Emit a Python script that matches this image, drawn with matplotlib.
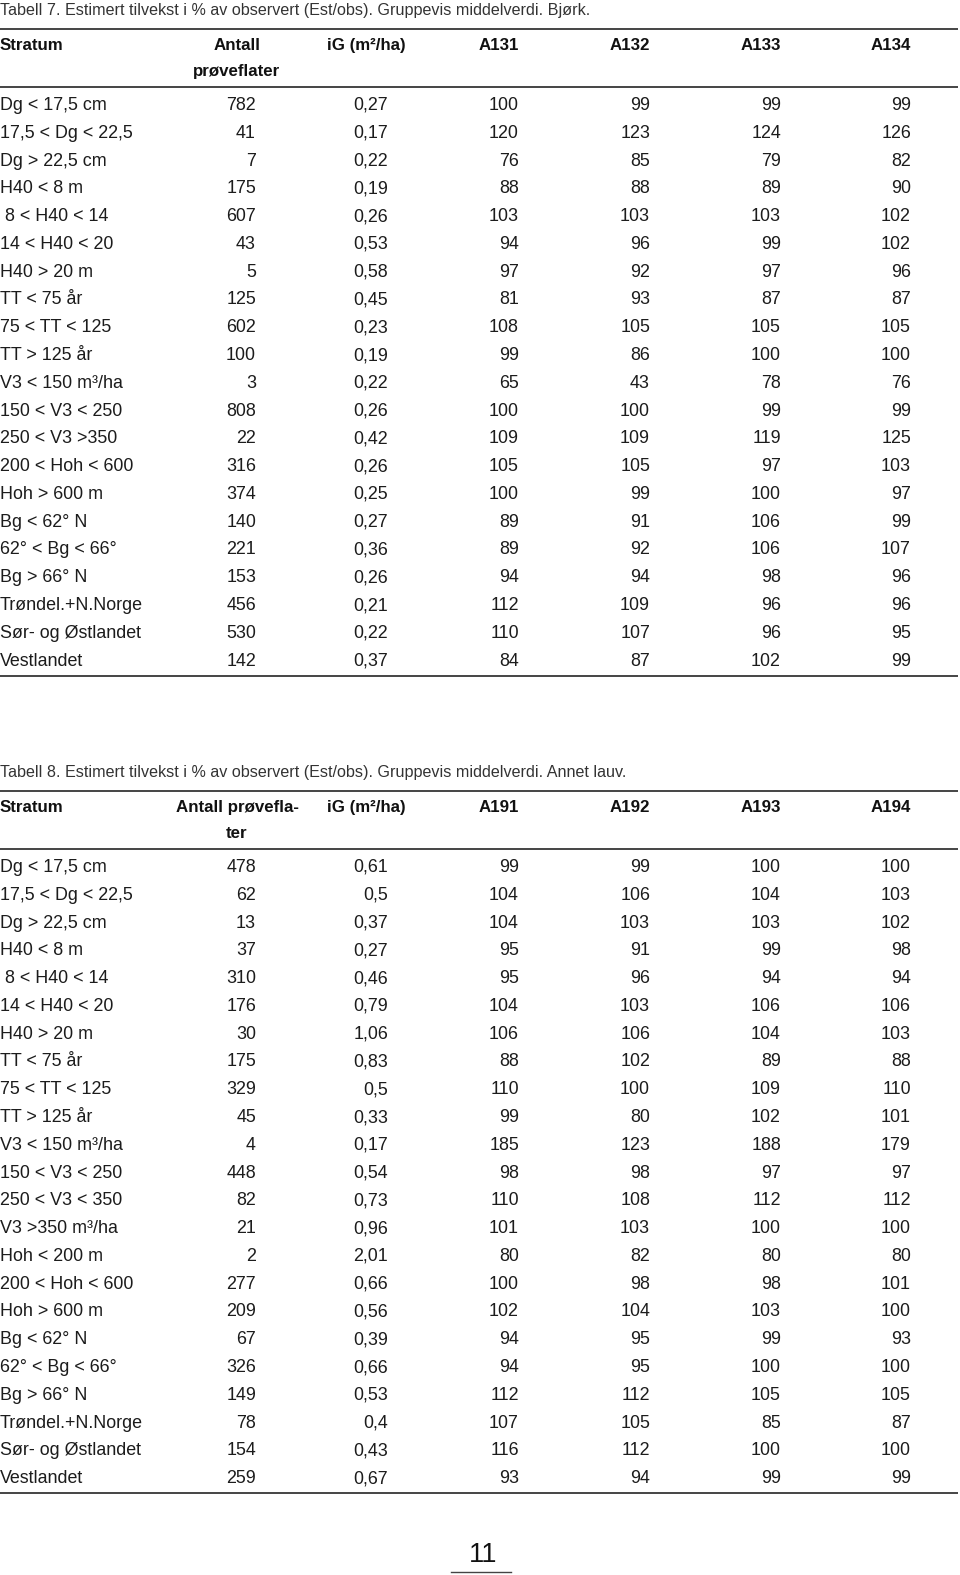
import matplotlib.pyplot as plt

# Tabell 7 - Bjørk
caption7 = "Tabell 7. Estimert tilvekst i % av observert (Est/obs). Gruppevis middelverdi. Bjørk."
cols7 = ["A131", "A132", "A133", "A134"]
strata7 = ["Dg < 17,5 cm", "17,5 < Dg < 22,5", "Dg > 22,5 cm", "H40 < 8 m", " 8 < H40 < 14",
           "14 < H40 < 20", "H40 > 20 m", "TT < 75 år", "75 < TT < 125", "TT > 125 år",
           "V3 < 150 m³/ha", "150 < V3 < 250", "250 < V3 >350", "200 < Hoh < 600", "Hoh > 600 m",
           "Bg < 62° N", "62° < Bg < 66°", "Bg > 66° N", "Trøndel.+N.Norge", "Sør- og Østlandet",
           "Vestlandet"]
antall7 = [782, 41, 7, 175, 607, 43, 5, 125, 602, 100, 3, 808, 22, 316, 374, 140, 221, 153, 456, 530, 142]
ig7 = [0.27, 0.17, 0.22, 0.19, 0.26, 0.53, 0.58, 0.45, 0.23, 0.19, 0.22, 0.26, 0.42, 0.26, 0.25,
       0.27, 0.36, 0.26, 0.21, 0.22, 0.37]
a131 = [100, 120, 76, 88, 103, 94, 97, 81, 108, 99, 65, 100, 109, 105, 100, 89, 89, 94, 112, 110, 84]
a132 = [99, 123, 85, 88, 103, 96, 92, 93, 105, 86, 43, 100, 109, 105, 99, 91, 92, 94, 109, 107, 87]
a133 = [99, 124, 79, 89, 103, 99, 97, 87, 105, 100, 78, 99, 119, 97, 100, 106, 106, 98, 96, 96, 102]
a134 = [99, 126, 82, 90, 102, 102, 96, 87, 105, 100, 76, 99, 125, 103, 97, 99, 107, 96, 96, 95, 99]

# Tabell 8 - Annet lauv
caption8 = "Tabell 8. Estimert tilvekst i % av observert (Est/obs). Gruppevis middelverdi. Annet lauv."
cols8 = ["A191", "A192", "A193", "A194"]
strata8 = ["Dg < 17,5 cm", "17,5 < Dg < 22,5", "Dg > 22,5 cm", "H40 < 8 m", " 8 < H40 < 14",
           "14 < H40 < 20", "H40 > 20 m", "TT < 75 år", "75 < TT < 125", "TT > 125 år",
           "V3 < 150 m³/ha", "150 < V3 < 250", "250 < V3 < 350", "V3 >350 m³/ha", "Hoh < 200 m",
           "200 < Hoh < 600", "Hoh > 600 m", "Bg < 62° N", "62° < Bg < 66°", "Bg > 66° N",
           "Trøndel.+N.Norge", "Sør- og Østlandet", "Vestlandet"]
antall8 = [478, 62, 13, 37, 310, 176, 30, 175, 329, 45, 4, 448, 82, 21, 2, 277, 209, 67, 326, 149, 78, 154, 259]
ig8 = [0.61, 0.5, 0.37, 0.27, 0.46, 0.79, 1.06, 0.83, 0.5, 0.33, 0.17, 0.54, 0.73, 0.96, 2.01,
       0.66, 0.56, 0.39, 0.66, 0.53, 0.4, 0.43, 0.67]
a191 = [99, 104, 104, 95, 95, 104, 106, 88, 110, 99, 185, 98, 110, 101, 80, 100, 102, 94, 94, 112, 107, 116, 93]
a192 = [99, 106, 103, 91, 96, 103, 106, 102, 100, 80, 123, 98, 108, 103, 82, 98, 104, 95, 95, 112, 105, 112, 94]
a193 = [100, 104, 103, 99, 94, 106, 104, 89, 109, 102, 188, 97, 112, 100, 80, 98, 103, 99, 100, 105, 85, 100, 99]
a194 = [100, 103, 102, 98, 94, 106, 103, 88, 110, 101, 179, 97, 112, 100, 80, 101, 100, 93, 100, 105, 87, 100, 99]

page_no = "11"

W, H = 960, 1575
fig = plt.figure(figsize=(W / 100, H / 100), dpi=100)
ax = fig.add_axes([0, 0, 1, 1])
ax.set_xlim(0, W)
ax.set_ylim(H, 0)
ax.axis("off")

BODY = dict(family=["Liberation Sans", "DejaVu Sans"], fontsize=12.9, color="#1c1c1c")
HEAD = dict(family=["Liberation Sans", "DejaVu Sans"], fontsize=12.2, color="#111111",
            weight="bold")
CAP = dict(family=["Liberation Sans", "DejaVu Sans"], fontsize=11.6, color="#333333")
LINE = dict(color="#444444", lw=1.4, solid_capstyle="butt")

# right edges of numeric columns
x_antall = 256
x_ig = 388
x_cols = [519, 650, 781, 911]
ROW = 27.78


def fmt(v):
    return str(v).replace(".", ",")


def draw_table(y0, caption, antall_head, cols, strata, antall, ig, series):
    ax.text(0, y0 + 5, caption, ha="left", va="baseline", **CAP)
    ax.plot([0, 958], [y0 + 19, y0 + 19], **LINE)
    hy = y0 + 40
    ax.text(0, hy, "Stratum", ha="left", va="baseline", **HEAD)
    ax.text(237, hy, antall_head[0], ha="center", va="baseline", **HEAD)
    ax.text(237, hy + 26, antall_head[1], ha="center", va="baseline", **HEAD)
    ax.text(327, hy, "iG (m²/ha)", ha="left", va="baseline", **HEAD)
    for x, c in zip(x_cols, cols):
        ax.text(x, hy, c, ha="right", va="baseline", **HEAD)
    ax.plot([0, 958], [y0 + 77, y0 + 77], **LINE)
    by = y0 + 100
    for i, s in enumerate(strata):
        y = by + i * ROW
        ax.text(0, y, s, ha="left", va="baseline", **BODY)
        ax.text(x_antall, y, str(antall[i]), ha="right", va="baseline", **BODY)
        ax.text(x_ig, y, fmt(ig[i]), ha="right", va="baseline", **BODY)
        for x, ser in zip(x_cols, series):
            ax.text(x, y, str(ser[i]), ha="right", va="baseline", **BODY)
    yb = by + (len(strata) - 1) * ROW + 10
    ax.plot([0, 958], [yb, yb], **LINE)


draw_table(10, caption7, ("Antall", "prøveflater"), cols7, strata7, antall7, ig7,
           [a131, a132, a133, a134])
draw_table(772, caption8, ("Antall prøvefla-", "ter"), cols8, strata8, antall8, ig8,
           [a191, a192, a193, a194])

ax.text(483, 1562, page_no, ha="center", va="baseline",
        family=["Liberation Sans", "DejaVu Sans"], fontsize=19.5, color="#111111")
ax.plot([451, 511], [1572, 1572], color="#444444", lw=1.0)

fig.savefig("out.png", dpi=100, facecolor="white")
